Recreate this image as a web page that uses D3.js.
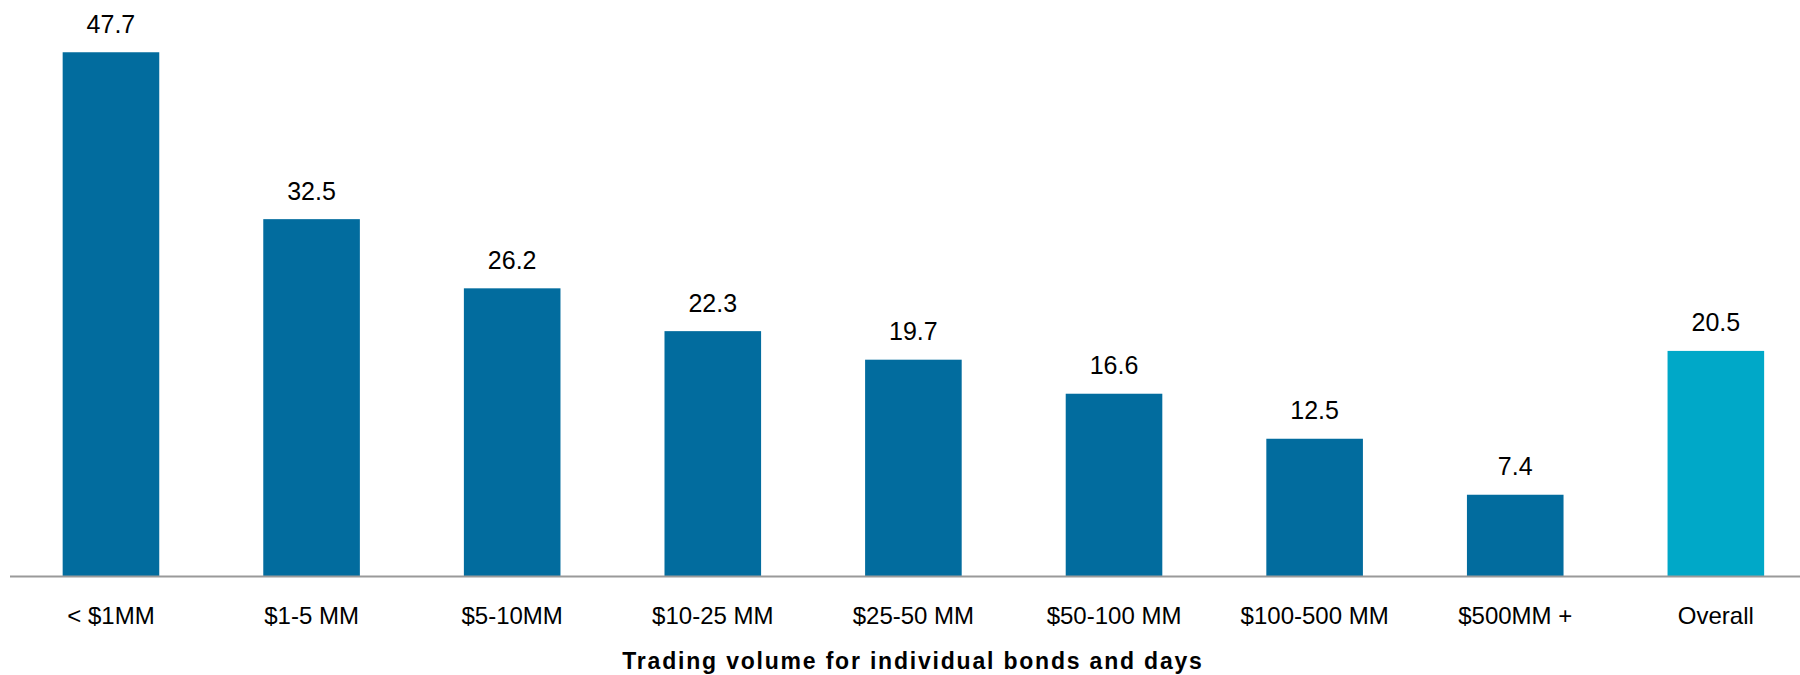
<!DOCTYPE html>
<html>
<head>
<meta charset="utf-8">
<script src="https://cdn.jsdelivr.net/npm/d3@7"></script>
<style>
  body { margin: 0; background: #fff; }
  svg { display: block; font-family: "Liberation Sans", Arial, sans-serif; }
</style>
</head>
<body>
<svg></svg>
<script>
const w = 1800
const h = 675

// data
const categories = ['< $1MM', '$1-5 MM', '$5-10MM', '$10-25 MM', '$25-50 MM',
  '$50-100 MM', '$100-500 MM', '$500MM +', 'Overall']
const values = [47.7, 32.5, 26.2, 22.3, 19.7, 16.6, 12.5, 7.4, 20.5]
const highlighted = ['Overall']
const xAxisLabel = 'Trading volume for individual bonds and days'

const data = categories.map((c, i) => ({ cat: c, val: values[i] }))

const svg = d3.select('svg')
  .attr('width', w)
  .attr('height', h)

const baseY = 576

const xScale = d3.scaleBand()
  .domain(categories)
  .range([10.7, 10.7 + 9 * 200.6])
  .paddingInner(0.5185)
  .paddingOuter(0.259)

const yScale = d3.scaleLinear()
  .domain([0, 50])
  .range([baseY, baseY - 549])

// bars
svg.selectAll('rect.bar').data(data)
  .enter().append('rect')
  .attr('class', 'bar')
  .attr('x', d => xScale(d.cat))
  .attr('y', d => yScale(d.val))
  .attr('width', xScale.bandwidth())
  .attr('height', d => baseY - yScale(d.val))
  .attr('fill', d => highlighted.includes(d.cat) ? '#00A8C8' : '#026C9E')

// value labels
svg.selectAll('text.val').data(data)
  .enter().append('text')
  .attr('class', 'val')
  .attr('x', d => xScale(d.cat) + xScale.bandwidth() / 2)
  .attr('y', d => yScale(d.val) - 19.5)
  .attr('text-anchor', 'middle')
  .attr('font-size', 25)
  .attr('fill', '#000')
  .text(d => d.val.toFixed(1))

// x axis
const xAxis = d3.axisBottom(xScale)
  .tickSize(0)
  .tickPadding(30)

const xAxisG = svg.append('g')
  .attr('transform', `translate(0, ${baseY})`)
  .call(xAxis)

xAxisG.select('.domain').remove()
xAxisG.selectAll('text')
  .attr('font-size', 24)
  .attr('font-family', '"Liberation Sans", Arial, sans-serif')
  .attr('fill', '#000')
  .attr('dy', null)
  .attr('y', 48)

svg.append('line')
  .attr('x1', 10).attr('x2', w)
  .attr('y1', baseY + 0.5).attr('y2', baseY + 0.5)
  .attr('stroke', '#9a9a9a')
  .attr('stroke-width', 2)

// axis title
svg.append('text')
  .attr('x', 913)
  .attr('y', 669)
  .attr('text-anchor', 'middle')
  .attr('font-size', 23)
  .attr('font-weight', 'bold')
  .attr('letter-spacing', '1.8px')
  .attr('fill', '#000')
  .text(xAxisLabel)
</script>
</body>
</html>
